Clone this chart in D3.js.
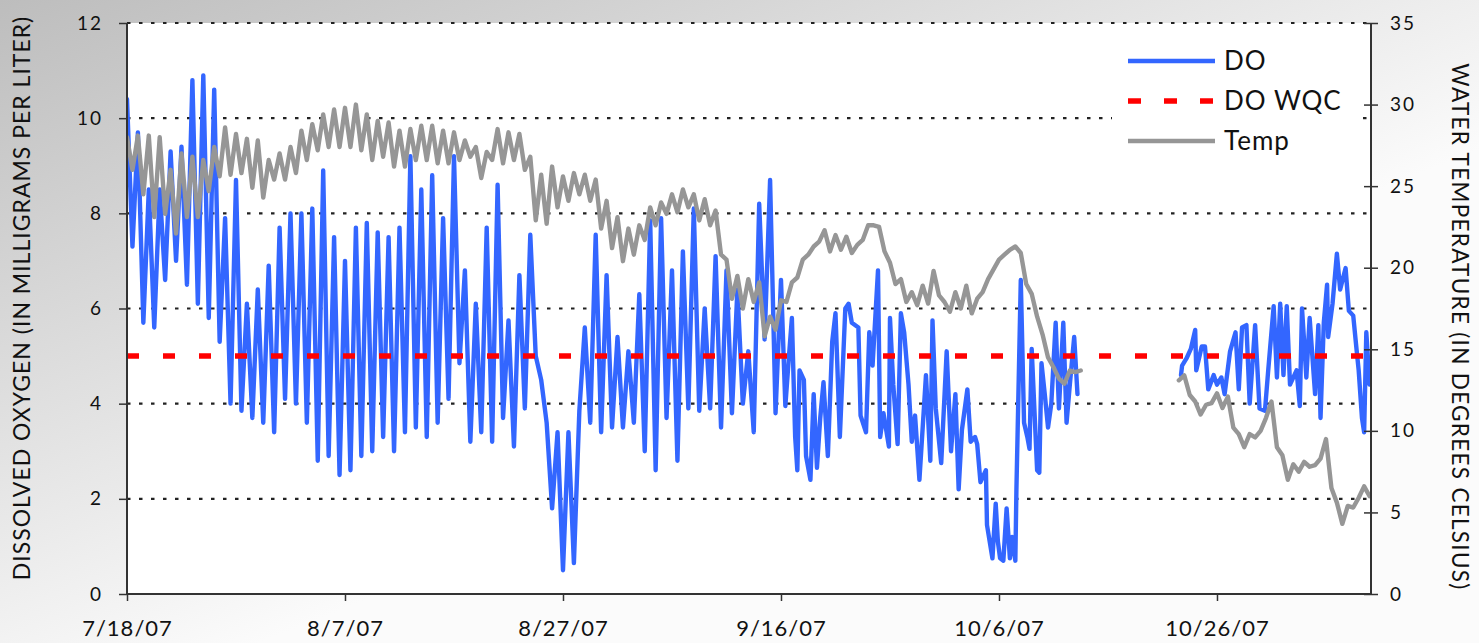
<!DOCTYPE html>
<html>
<head>
<meta charset="utf-8">
<script src="https://cdn.jsdelivr.net/npm/d3@7"></script>
<style>
  html, body { margin: 0; padding: 0; background: #fff; }
  svg text { font-family: Lato, "Open Sans", sans-serif; fill: #111; }
</style>
</head>
<body>
<svg id="chart" width="1479" height="643"></svg>
<script>
// ---------------- DATA ----------------
const startDate = Date.UTC(2007, 6, 18);           // 7/18/07
const endDay = 114.13;                              // right edge of the time axis (days after start)
const xTickDays = [0, 20, 40, 60, 80, 100];
const xTickLabels = ["7/18/07", "8/7/07", "8/27/07", "9/16/07", "10/6/07", "10/26/07"];
const doTicks = [0, 2, 4, 6, 8, 10, 12];
const tempTicks = [0, 5, 10, 15, 20, 25, 30, 35];
const doWQC = 5;

// DO, first period: half-day readings (daily max / min) from day 0 to day 59.5
const doStep = 0.5;
const doA = [
  10.4, 7.3, 9.7, 5.7, 8.5, 5.6, 8.5, 6.6, 9.3, 7.0, 9.4, 6.5, 10.8, 6.1, 10.9, 5.8, 10.6, 5.3, 7.9, 4.0,
  8.7, 3.85, 6.1, 3.7, 6.4, 3.6, 6.9, 3.4, 7.7, 4.1, 8.0, 4.0, 8.0, 3.6, 8.1, 2.8, 8.9, 2.9, 7.5, 2.5,
  7.0, 2.6, 7.7, 2.9, 7.8, 3.0, 7.6, 3.3, 7.5, 3.0, 7.7, 3.4, 9.2, 3.5, 8.5, 3.3, 8.8, 3.6, 7.9, 4.1,
  9.2, 4.85, 6.8, 3.2, 6.1, 3.4, 7.7, 3.2, 8.6, 3.7, 5.75, 3.1, 6.7, 3.9, 7.55, 5.0, 4.5, 3.6, 1.8, 3.4,
  0.5, 3.4, 0.65, 3.85, 5.6, 3.6, 7.55, 3.4, 6.7, 3.5, 5.4, 3.5, 5.1, 3.6, 6.3, 3.0, 7.85, 2.6, 7.9, 3.7,
  6.8, 2.8, 7.2, 3.9, 8.1, 3.85, 6.0, 3.9, 7.1, 3.5, 6.8, 3.8, 6.4, 4.0, 5.1, 3.4, 8.2, 5.35, 8.7, 3.8
];
// DO, first period continued (irregular readings, day 60 to 87.2)
const doBDays = [
  60.0, 60.4, 60.7, 61.0, 61.3, 61.5, 61.7, 62.1, 62.3, 62.7, 63.0, 63.3, 63.6, 63.9, 64.3, 64.7, 65.0, 65.4,
  65.9, 66.2, 66.5, 67.1, 67.3, 67.8, 68.1, 68.4, 68.9, 69.1, 69.4, 69.9, 70.0, 70.3, 70.7, 71.0, 71.3, 71.7,
  72.0, 72.3, 72.7, 73.3, 73.7, 73.9, 74.2, 74.7, 75.2, 75.6, 76.0, 76.3, 76.6, 77.1, 77.4, 77.8, 78.0, 78.3,
  78.8, 78.9, 79.4, 79.7, 79.9, 80.1, 80.4, 80.7, 81.0, 81.2, 81.5, 81.6, 81.8, 82.0, 82.3, 82.6, 82.8, 83.0,
  83.5, 83.7, 83.9, 84.2, 84.5, 84.8, 85.2, 85.5, 85.9, 86.2, 86.5, 86.9, 87.2
];
const doB = [
  6.6, 3.95, 4.9, 5.8, 3.3, 2.6, 4.7, 4.5, 2.9, 2.4, 4.2, 2.65, 3.7, 4.45, 2.9, 5.3, 5.9, 3.3,
  6.0, 6.1, 5.7, 5.6, 3.75, 3.4, 5.5, 4.8, 6.8, 3.3, 3.8, 3.1, 5.8, 4.4, 3.15, 5.9, 5.5, 4.4,
  3.2, 3.75, 2.4, 4.6, 2.8, 5.75, 3.9, 2.75, 5.1, 3.0, 4.2, 2.2, 3.45, 4.3, 3.2, 3.3, 3.15, 2.35,
  2.6, 1.45, 0.75, 1.9, 1.1, 0.75, 0.7, 1.8, 0.75, 1.2, 0.7, 2.2, 4.4, 6.6, 3.6, 3.3, 3.05, 5.15,
  2.6, 2.55, 4.85, 4.2, 3.5, 4.0, 5.7, 3.9, 5.7, 3.6, 4.4, 5.4, 4.2
];
// DO, second period (after the data gap)
const doCDays = [
  96.7, 96.8, 97.2, 97.6, 98.0, 98.1, 98.6, 98.9, 99.2, 99.7, 100.0, 100.4, 100.7, 101.2, 101.7, 102.0, 102.3, 102.7,
  103.0, 103.5, 103.9, 104.4, 104.7, 105.2, 105.5, 105.8, 106.1, 106.4, 106.7, 107.3, 107.6, 107.8, 108.2, 108.5,
  109.0, 109.3, 109.5, 109.8, 110.1, 110.2, 110.6, 111.0, 111.3, 111.8, 112.1, 112.5, 112.8, 113.0, 113.3, 113.5,
  113.7, 114.0
];
const doC = [
  4.6, 4.8, 4.95, 5.15, 5.55, 4.7, 5.2, 5.2, 4.3, 4.6, 4.4, 4.55, 4.2, 5.1, 5.5, 4.3, 5.6, 5.65,
  4.0, 5.65, 3.9, 3.85, 4.7, 6.05, 4.55, 6.1, 4.6, 6.05, 4.4, 4.7, 3.95, 6.0, 4.55, 5.8,
  4.2, 5.65, 3.7, 5.7, 6.5, 5.4, 6.1, 7.15, 6.4, 6.85, 5.95, 5.85, 5.15, 4.7, 3.7, 3.4,
  5.5, 4.4
];

// Water temperature, first period: half-day readings from day 0 to day 87.5
const tempStep = 0.5;
const tempA = [
  28.0, 26.0, 28.1, 24.5, 28.1, 23.1, 28.0, 23.3, 26.0, 22.1, 27.0, 23.1, 26.8, 23.1, 26.6, 24.7, 27.4, 25.6, 28.6, 25.7,
  28.2, 25.8, 27.9, 24.9, 27.8, 24.3, 26.6, 25.4, 27.0, 25.4, 27.4, 25.8, 28.4, 26.6, 28.8, 27.2, 29.4, 27.4, 29.7, 27.4,
  29.8, 27.4, 30.0, 27.2, 29.4, 26.6, 29.0, 26.8, 28.9, 26.2, 28.4, 26.2, 28.5, 26.6, 28.7, 26.6, 28.7, 26.4, 28.4, 26.4,
  28.3, 26.6, 27.8, 26.8, 27.4, 25.5, 27.1, 26.6, 28.5, 26.4, 28.3, 26.6, 28.2, 26.0, 26.8, 22.9, 25.7, 22.7, 26.2, 23.7,
  25.6, 24.1, 25.8, 24.5, 25.7, 24.1, 25.4, 22.4, 24.1, 21.2, 23.1, 20.4, 22.4, 20.8, 22.6, 21.7, 23.7, 22.6, 24.0, 23.3,
  24.5, 23.4, 24.8, 23.7, 24.5, 22.9, 24.2, 22.6, 23.5, 20.8, 20.5, 18.1, 19.5, 17.5, 19.3, 17.9, 19.1, 15.8, 17.0, 16.2,
  18.0, 17.9, 19.1, 19.4, 20.5, 20.8, 21.3, 21.6, 22.3, 21.0, 22.0, 21.1, 21.9, 20.9, 21.4, 21.7, 22.6, 22.6, 22.5, 21.0,
  20.3, 19.0, 19.3, 17.9, 18.5, 17.7, 18.9, 17.8, 19.8, 18.3, 17.9, 17.3, 18.5, 17.5, 18.9, 17.2, 18.1, 18.5, 19.3, 19.9,
  20.5, 20.8, 21.1, 21.3, 20.9, 19.0, 18.4, 17.0, 15.9, 14.5, 13.9, 13.2, 12.9, 13.7, 13.6, 13.7
];
// Water temperature, second period: half-day readings from day 96.5 to day 114
const tempBStart = 96.5;
const tempB = [
  13.1, 13.4, 12.2, 11.8, 11.0, 11.6, 11.7, 12.3, 11.4, 12.1, 10.2, 9.8, 9.0, 9.8, 9.6, 10.0, 10.8, 11.8,
  9.0, 8.5, 7.0, 7.95, 7.5, 8.1, 7.8, 7.9, 8.3, 9.5, 6.5, 5.6, 4.3, 5.4, 5.3, 5.9, 6.6, 6.0
];

// ---------------- CHART ----------------
const W = 1479, H = 643;
const M = { left: 127, right: 1371, top: 23, bottom: 594 };
const svg = d3.select("#chart");
const dayToDate = d => new Date(startDate + d * 86400000);

const defs = svg.append("defs");
const grad = defs.append("linearGradient").attr("id", "bg")
  .attr("gradientUnits", "userSpaceOnUse")
  .attr("x1", 0).attr("y1", 0).attr("x2", 260).attr("y2", 643);
grad.append("stop").attr("offset", 0).attr("stop-color", "#bdbdbd");
grad.append("stop").attr("offset", 1).attr("stop-color", "#fbfbfb");
defs.append("clipPath").attr("id", "plotclip").append("rect")
  .attr("x", M.left).attr("y", M.top - 5).attr("width", M.right - M.left).attr("height", M.bottom - M.top + 5);

svg.append("rect").attr("width", W).attr("height", H).attr("fill", "url(#bg)");
svg.append("rect").attr("x", M.left).attr("y", M.top)
  .attr("width", M.right - M.left).attr("height", M.bottom - M.top).attr("fill", "#fff");

const x = d3.scaleUtc().domain([dayToDate(0), dayToDate(endDay)]).range([M.left, M.right]);
const yL = d3.scaleLinear().domain([0, 12]).range([M.bottom, M.top]);
const yR = d3.scaleLinear().domain([0, 35]).range([M.bottom, M.top]);

// gridlines
svg.append("g").selectAll("line").data(doTicks.filter(t => t > 0)).join("line")
  .attr("x1", M.left).attr("x2", M.right)
  .attr("y1", d => yL(d)).attr("y2", d => yL(d))
  .attr("stroke", "#222").attr("stroke-width", 2.2).attr("stroke-dasharray", "3.5,8.5");

// series
const lineL = d3.line().x(d => x(dayToDate(d[0]))).y(d => yL(d[1])).curve(d3.curveLinear);
const lineR = d3.line().x(d => x(dayToDate(d[0]))).y(d => yR(d[1])).curve(d3.curveLinear);

const doSeg1 = doA.map((v, i) => [i * doStep, v]).concat(doBDays.map((d, i) => [d, doB[i]]));
const doSeg2 = doCDays.map((d, i) => [d, doC[i]]);
const tSeg1 = tempA.map((v, i) => [i * tempStep, v]);
const tSeg2 = tempB.map((v, i) => [tempBStart + i * tempStep, v]);

const plot = svg.append("g").attr("clip-path", "url(#plotclip)");
[doSeg1, doSeg2].forEach(seg => plot.append("path").datum(seg).attr("d", lineL)
  .attr("fill", "none").attr("stroke", "#3366ff").attr("stroke-width", 4.4)
  .attr("stroke-linejoin", "round").attr("stroke-linecap", "round"));
plot.append("line")
  .attr("x1", M.left).attr("x2", M.right).attr("y1", yL(doWQC)).attr("y2", yL(doWQC))
  .attr("stroke", "#ff0000").attr("stroke-width", 5.5).attr("stroke-dasharray", "12,24");
[tSeg1, tSeg2].forEach(seg => plot.append("path").datum(seg).attr("d", lineR)
  .attr("fill", "none").attr("stroke", "#969696").attr("stroke-width", 4.4)
  .attr("stroke-linejoin", "round").attr("stroke-linecap", "round"));

// axes
const axL = d3.axisLeft(yL).tickValues(doTicks).tickSize(8).tickPadding(16).tickFormat(d3.format("d"));
const gL = svg.append("g").attr("transform", `translate(${M.left},0)`).call(axL);
const axR = d3.axisRight(yR).tickValues(tempTicks).tickSize(7).tickPadding(12).tickFormat(d3.format("d"));
const gR = svg.append("g").attr("transform", `translate(${M.right},0)`).call(axR);
gR.selectAll(".tick line").attr("x1", -7);
const axB = d3.axisBottom(x).tickValues(xTickDays.map(dayToDate)).tickSize(7).tickPadding(19)
  .tickFormat((d, i) => xTickLabels[i]);
const gB = svg.append("g").attr("transform", `translate(0,${M.bottom})`).call(axB);

[gL, gR, gB].forEach(g => {
  g.select(".domain").attr("stroke", "#333").attr("stroke-width", 2);
  g.selectAll(".tick line").attr("stroke", "#333").attr("stroke-width", 1.5);
  g.selectAll(".tick text").attr("fill", "#111").style("font-family", "Lato, sans-serif");
});
gL.select(".domain").attr("d", `M0,${M.bottom}V${M.top}`);
gR.select(".domain").attr("d", `M0,${M.bottom}V${M.top}`);
gB.select(".domain").attr("d", `M${M.left},0H${M.right}`);
gL.selectAll(".tick text").attr("font-size", 19).style("letter-spacing", "2px");
gR.selectAll(".tick text").attr("font-size", 19).style("letter-spacing", "2px");
gB.selectAll(".tick text").attr("font-size", 22).style("letter-spacing", "1px");

// axis titles
svg.append("text").attr("transform", `translate(30,298) rotate(-90)`)
  .attr("text-anchor", "middle").attr("font-size", 23).style("letter-spacing", "1px")
  .text("DISSOLVED OXYGEN (IN MILLIGRAMS PER LITER)");
svg.append("text").attr("transform", `translate(1452,327) rotate(90)`)
  .attr("text-anchor", "middle").attr("font-size", 22.5).style("letter-spacing", "1.3px")
  .text("WATER TEMPERATURE (IN DEGREES CELSIUS)");

// legend
const legendItems = [
  { name: "DO", color: "#3366ff", dash: null, width: 4.4 },
  { name: "DO WQC", color: "#ff0000", dash: "13,23", width: 5.5 },
  { name: "Temp", color: "#969696", dash: null, width: 4.4 }
];
const lg = svg.append("g");
lg.append("rect").attr("x", 1112).attr("y", 40).attr("width", 246).attr("height", 122).attr("fill", "#fff");
legendItems.forEach((it, i) => {
  const yy = 61 + i * 40;
  lg.append("line").attr("x1", 1128).attr("x2", 1215).attr("y1", yy).attr("y2", yy)
    .attr("stroke", it.color).attr("stroke-width", it.width).attr("stroke-dasharray", it.dash);
  lg.append("text").attr("x", 1224).attr("y", yy + 9).attr("font-size", 26).style("letter-spacing", "1px").text(it.name);
});
</script>
</body>
</html>
